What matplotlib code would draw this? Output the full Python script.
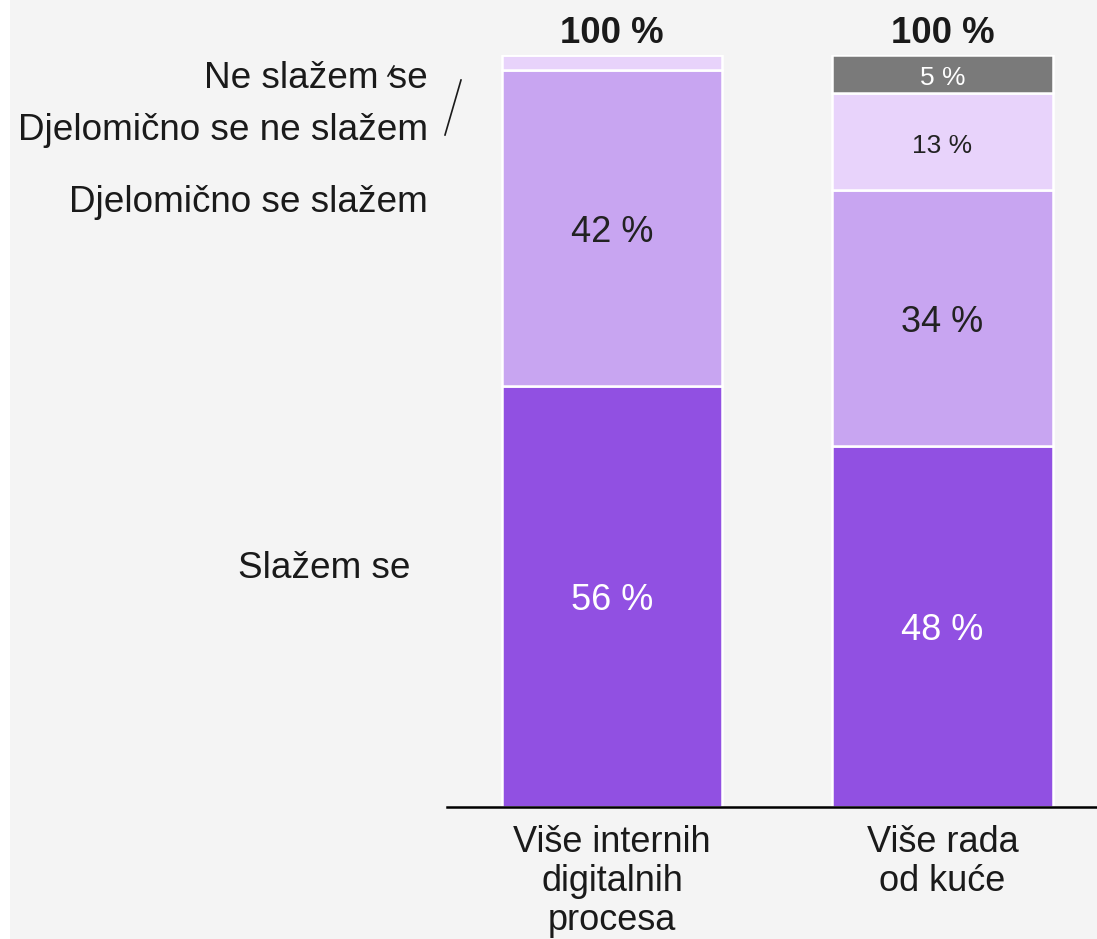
import matplotlib.pyplot as plt
import numpy as np

plt.rcParams['font.family'] = ['Liberation Sans', 'DejaVu Sans']

# podaci
categories = ["Više internih\ndigitalnih\nprocesa", "Više rada\nod kuće"]
series_names = ["Slažem se", "Djelomično se slažem", "Djelomično se ne slažem", "Ne slažem se"]
slazem = [56, 48]
djel_slazem = [42, 34]
djel_ne_slazem = [2, 13]
ne_slazem = [0, 5]
totals = ["100 %", "100 %"]

colors = ["#9150e2", "#c8a5f1", "#e8d3fb", "#7a7a7a"]
txt_colors = ["white", "#222222", "#222222", "white"]
txt_sizes = [26, 26, 19, 19]

fig = plt.figure(figsize=(10.97, 9.39), dpi=100)
fig.patch.set_facecolor("white")
fig.patches.append(plt.Rectangle((10 / 1097, 0), 1, 1, transform=fig.transFigure,
                                 facecolor="#f4f4f4", edgecolor="none", zorder=-5))
ax = fig.add_axes([447 / 1097, 132 / 939, 650 / 1097, 752 / 939])
ax.set_facecolor("none")
ax.set_zorder(2)

x = np.arange(len(categories))
data = [slazem, djel_slazem, djel_ne_slazem, ne_slazem]
bottom = np.zeros(len(categories))
for k, vals in enumerate(data):
    vals = np.array(vals, dtype=float)
    ax.bar(x, vals, 0.667, bottom=bottom, color=colors[k], edgecolor="white",
           linewidth=1.8, zorder=2)
    for i, v in enumerate(vals):
        if v >= 5:
            ax.text(x[i], bottom[i] + v / 2 - 0.55, f"{int(v)} %", ha="center", va="center",
                    color=txt_colors[k], fontsize=txt_sizes[k], zorder=3)
    bottom += vals

for i, t in enumerate(totals):
    ax.text(x[i], 102.9, t, ha="center", va="center", fontsize=26.3,
            fontweight="bold", color="#1a1a1a", clip_on=False)

ax.set_xlim(-0.5, 1.468)
ax.set_ylim(0, 100)
ax.set_yticks([])
ax.set_xticks(x)
ax.set_xticklabels(categories, fontsize=26, color="#1a1a1a", linespacing=1.15)
ax.tick_params(axis="x", length=0, pad=13)
for s in ["top", "left", "right"]:
    ax.spines[s].set_visible(False)
ax.spines["bottom"].set_linewidth(1.8)
ax.spines["bottom"].set_color("black")

# oznake serija lijevo
lab_pos = [(410, 568), (428, 202), (428, 131), (428, 79)]
for name, (px, py) in zip(series_names, lab_pos):
    fig.text(px / 1097, 1 - py / 939, name, ha="right", va="center",
             fontsize=26.6, color="#1a1a1a")

fig.add_artist(plt.Line2D([461 / 1097, 445 / 1097], [1 - 80 / 939, 1 - 135 / 939],
                          transform=fig.transFigure, color="#1a1a1a", linewidth=1.2))
fig.add_artist(plt.Line2D([394 / 1097, 388 / 1097], [1 - 66 / 939, 1 - 76 / 939],
                          transform=fig.transFigure, color="#1a1a1a", linewidth=1.2))

fig.savefig("out.png", dpi=100, facecolor=fig.get_facecolor())
